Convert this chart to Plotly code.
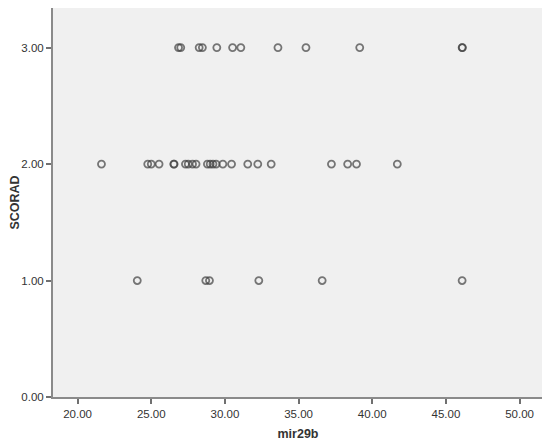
import plotly.graph_objects as go

# mir29b values for each SCORAD level
mir29b_scorad1 = [24.05, 28.7, 28.95, 32.3, 36.6, 46.1]
mir29b_scorad2 = [21.62, 24.76, 25.00, 25.53, 26.53, 26.55, 27.32, 27.51, 27.80, 28.04,
                  28.81, 29.00, 29.19, 29.40, 29.86, 30.45, 31.55, 32.23, 33.14,
                  37.23, 38.33, 38.93, 41.70]
mir29b_scorad3 = [26.85, 27.0, 28.25, 28.47, 29.45, 30.52, 31.08, 33.6, 35.5, 39.15,
                  46.1, 46.12]

scorad_levels = [1.0, 2.0, 3.0]
x_ticks = [20, 25, 30, 35, 40, 45, 50]
y_ticks = [0, 1, 2, 3]

xs, ys = [], []
for lvl, vals in zip(scorad_levels, [mir29b_scorad1, mir29b_scorad2, mir29b_scorad3]):
    xs += vals
    ys += [lvl] * len(vals)

fig = go.Figure(go.Scatter(
    x=xs, y=ys, mode="markers",
    marker=dict(symbol="circle-open", size=7, color="#404040", opacity=0.7,
                line=dict(width=1.8)),
    hoverinfo="x+y",
))

font = "Liberation Sans, Arial, sans-serif"
# page body has an 8px margin, so the figure is sized to fit the 550x442 window
fig.update_layout(
    width=542, height=434,
    margin=dict(l=45, r=7, t=0, b=45),
    paper_bgcolor="white", plot_bgcolor="#f0f0f0",
    showlegend=False,
    font=dict(family=font, size=11.5, color="#333333"),
)
fig.update_xaxes(
    range=[18.33, 51.59], tickvals=x_ticks,
    ticktext=[f"{v:.2f}" for v in x_ticks],
    showgrid=False, zeroline=False,
    showline=True, mirror=True, linecolor="#8a8a8a", linewidth=2,
    ticks="outside", ticklen=5, tickcolor="#707070", tickwidth=1.5,
    title=dict(text="<b>mir29b</b>", font=dict(size=12.5, color="#333333"), standoff=10),
    automargin=False,
)
fig.update_yaxes(
    range=[0, 3.34], tickvals=y_ticks,
    ticktext=[f"{v:.2f}" for v in y_ticks],
    showgrid=False, zeroline=False,
    showline=True, mirror=True, linecolor="#8a8a8a", linewidth=2,
    ticks="outside", ticklen=5, tickcolor="#707070", tickwidth=1.5,
    title=dict(text="<b>SCORAD</b>", font=dict(size=12.5, color="#333333"), standoff=0),
    automargin=False,
)

fig.write_html("out.html")
